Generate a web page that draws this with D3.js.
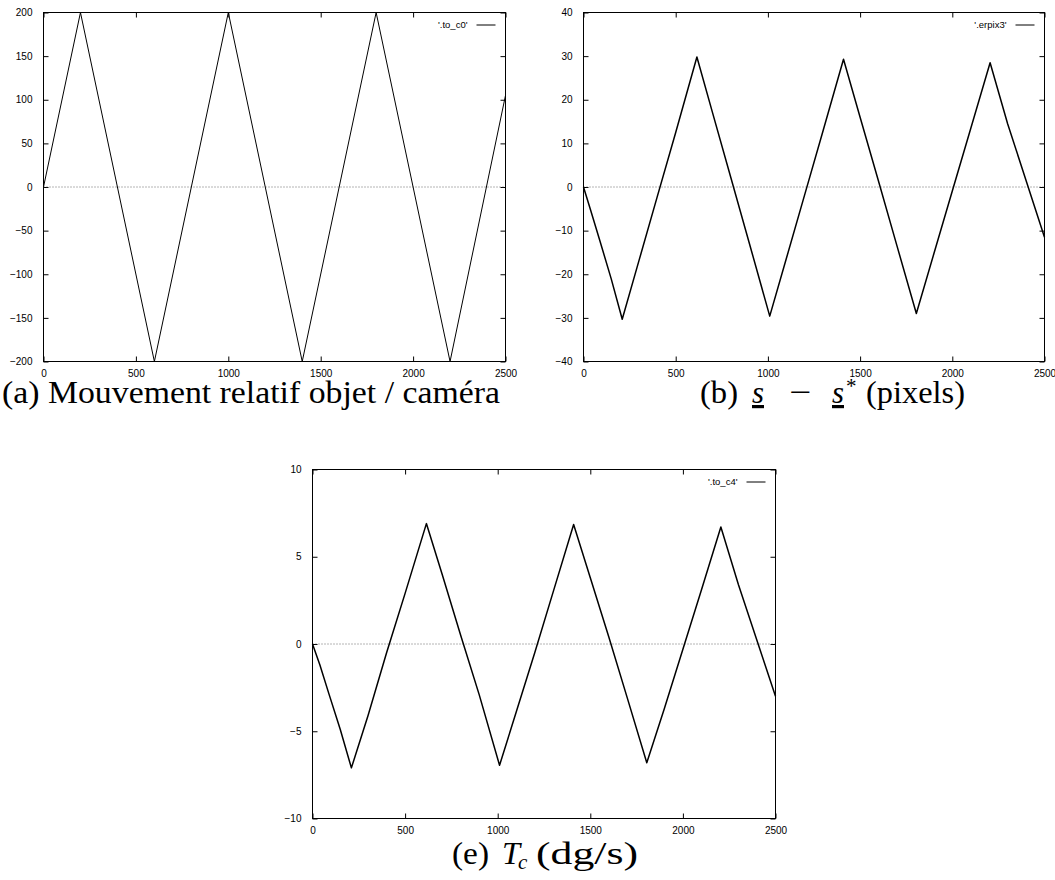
<!DOCTYPE html>
<html>
<head>
<meta charset="utf-8">
<script src="https://cdn.jsdelivr.net/npm/d3@7"></script>
<style>
  body { margin: 0; background: #fff; }
  svg { display: block; }
  .tick text { font-family: "Liberation Sans", Arial, sans-serif; font-size: 10px; fill: #000; }
  .legend { font-family: "Liberation Sans", Arial, sans-serif; font-size: 9.5px; }
  .caption { font-family: "Liberation Serif", "Times New Roman", serif; }
</style>
</head>
<body>
<div id="chart"></div>
<script>
var svgWidth = 1055;
var svgHeight = 880;

// tick values
var xTicks = [0, 500, 1000, 1500, 2000, 2500];
var yTicksA = [-200, -150, -100, -50, 0, 50, 100, 150, 200];
var yTicksB = [-40, -30, -20, -10, 0, 10, 20, 30, 40];
var yTicksE = [-10, -5, 0, 5, 10];

// (a) relative motion object / camera
var motionT = [0, 200, 600, 1000, 1400, 1800, 2200, 2500];
var motionV = [0, 200, -200, 200, -200, 200, -200, 105];

// (b) s - s* and (e) Tc, read at the same instants
var errT = [0, 40, 90, 150, 210, 300, 400, 500, 615, 700, 800, 900, 1010, 1100,
    1200, 1300, 1410, 1500, 1600, 1700, 1805, 1900, 2000, 2100, 2205, 2300, 2400, 2500];
var pixV = [0, -5.5, -12.5, -21, -30.3, -17, -2.2, 12.5, 29.8, 17, 2, -13, -29.6, -16.4,
    -1.7, 13, 29.3, 16, 1.3, -13.5, -29, -15.3, -0.9, 13.4, 28.5, 14.5, 1.5, -11.5];
var tcV = [0, -1.2, -2.9, -4.9, -7.1, -4.1, -0.5, 2.9, 6.9, 4, 0.5, -2.9, -6.95, -3.9,
    -0.5, 3, 6.85, 3.8, 0.4, -3.1, -6.8, -3.7, -0.3, 3.1, 6.7, 3.4, 0.2, -3];

var svg = d3.select("#chart")
    .append("svg")
    .attr("width", svgWidth)
    .attr("height", svgHeight);

function drawPanel(p) {
    var width = p.right - p.left;
    var height = p.bottom - p.top;

    var g = svg.append("g")
        .attr("transform", `translate(${p.left}, ${p.top})`);

    var x = d3.scaleLinear().domain([0, 2500]).range([0, width]);
    var y = d3.scaleLinear().domain(p.yDomain).range([height, 0]);

    // bottom and left axes with labels, ticks pointing inward
    g.append("g")
        .attr("transform", `translate(0, ${height})`)
        .call(d3.axisBottom(x).tickValues(xTicks).tickFormat(d3.format("d"))
            .tickSize(-5).tickSizeOuter(0).tickPadding(8));
    g.append("g")
        .call(d3.axisLeft(y).tickValues(p.yTicks).tickFormat(d3.format("d"))
            .tickSize(-5).tickSizeOuter(0).tickPadding(11));

    // mirrored ticks on top and right
    g.append("g")
        .call(d3.axisTop(x).tickValues(xTicks).tickSize(-5).tickSizeOuter(0).tickFormat(""));
    g.append("g")
        .attr("transform", `translate(${width}, 0)`)
        .call(d3.axisRight(y).tickValues(p.yTicks).tickSize(-5).tickSizeOuter(0).tickFormat(""));

    g.selectAll(".domain").remove();
    g.selectAll(".tick line").attr("stroke", "#000");

    // zero line
    g.append("line")
        .attr("x1", 0)
        .attr("x2", width)
        .attr("y1", y(0))
        .attr("y2", y(0))
        .attr("stroke", "#444")
        .attr("stroke-width", 0.8)
        .attr("stroke-dasharray", "1,2");

    // frame
    g.append("rect")
        .attr("width", width)
        .attr("height", height)
        .attr("fill", "none")
        .attr("stroke", "#000")
        .attr("stroke-width", 1);

    var line = d3.line()
        .x((d, i) => x(p.t[i]))
        .y(d => y(d));

    g.append("path")
        .datum(p.v)
        .attr("d", line)
        .attr("fill", "none")
        .attr("stroke", "#000")
        .attr("stroke-width", p.lineWidth)
        .attr("stroke-linejoin", "round");

    // key
    g.append("text")
        .attr("class", "legend")
        .attr("x", width - 38)
        .attr("y", 15.5)
        .attr("text-anchor", "end")
        .text(p.label);
    g.append("line")
        .attr("x1", width - 29)
        .attr("x2", width - 10)
        .attr("y1", 12.5)
        .attr("y2", 12.5)
        .attr("stroke", "#000");
}

drawPanel({ left: 43.5, top: 12.5, right: 505.5, bottom: 361.5, yDomain: [-200, 200],
    yTicks: yTicksA, t: motionT, v: motionV, label: "'.to_c0'", lineWidth: 1 });
drawPanel({ left: 583.5, top: 12.5, right: 1044.5, bottom: 361.5, yDomain: [-40, 40],
    yTicks: yTicksB, t: errT, v: pixV, label: "'.erpix3'", lineWidth: 1.5 });
drawPanel({ left: 312.5, top: 469.5, right: 775.5, bottom: 818.5, yDomain: [-10, 10],
    yTicks: yTicksE, t: errT, v: tcV, label: "'.to_c4'", lineWidth: 1.5 });

// captions, stretched to the width of the original serif
function caption(str, x, y, len, opts) {
    opts = opts || {};
    var t = svg.append("text")
        .attr("class", "caption")
        .attr("x", x)
        .attr("y", y)
        .style("font-size", (opts.size || 32) + "px")
        .text(str);
    if (len) t.attr("textLength", len).attr("lengthAdjust", "spacingAndGlyphs");
    if (opts.italic) t.style("font-style", "italic");
    if (opts.underline) t.style("text-decoration", "underline");
    return t;
}

caption("(a) Mouvement relatif objet / caméra", 2, 403, 498);

caption("(b)", 700, 403, 38);
caption("s", 752, 403, 12, { italic: true, underline: true });
caption("\u2212", 789, 403, 22);
caption("s", 832, 403, 12, { italic: true, underline: true });
caption("*", 846, 393, 0, { size: 21 });
caption("(pixels)", 866, 403, 99);

caption("(e)", 452, 864, 37);
caption("T", 502, 864, 18, { italic: true });
caption("c", 518, 869, 0, { italic: true, size: 21 });
caption("(dg/s)", 536, 864, 102);
</script>
</body>
</html>
